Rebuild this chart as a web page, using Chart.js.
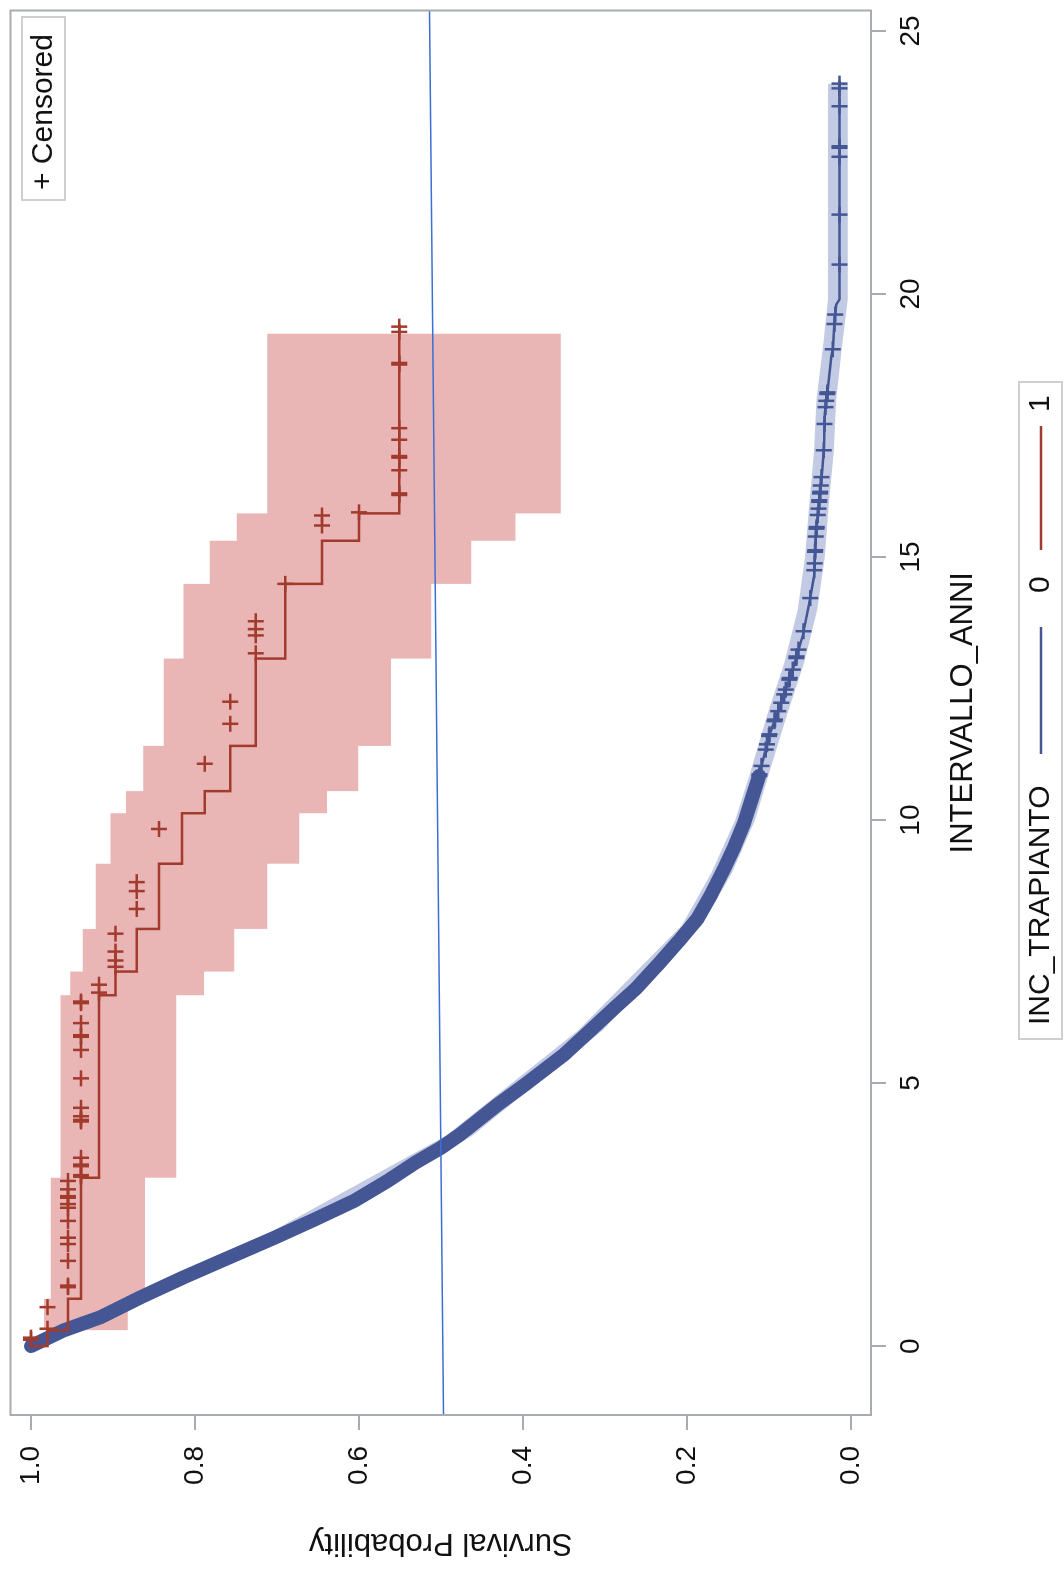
<!DOCTYPE html>
<html>
<head>
<meta charset="utf-8">
<title>Survival - INC_TRAPIANTO</title>
<script src="https://cdn.jsdelivr.net/npm/chart.js@4.4.1/dist/chart.umd.min.js"></script>
<style>
  html, body { margin: 0; padding: 0; background: #fff; overflow: hidden; }
  body { width: 1064px; height: 1574px; position: relative; }
  /* the plot is drawn landscape and turned a quarter turn to the left */
  #wrap { position: absolute; left: 0; top: 0; width: 1574px; height: 1064px;
          transform-origin: 0 0; transform: translate(0, 1574px) rotate(-90deg); }
</style>
</head>
<body>
<div id="wrap"><canvas id="km" width="1574" height="1064"></canvas></div>
<script>
// ── axis ticks ──
const xTicks = [0, 5, 10, 15, 20, 25];
const yTicks = [0, 0.2, 0.4, 0.6, 0.8, 1.0];

// ── INC_TRAPIANTO = 0 ──
const blueT = [0, 0.3, 0.55, 0.93, 1.3, 1.62, 2.06, 2.4, 2.76, 3.14, 3.5, 3.77, 4.03, 4.59, 5.0, 5.54, 6.0, 6.42, 6.8, 7.24, 7.7, 8.13, 8.6, 9.07, 9.5, 9.96, 10.4, 10.84,
               11.6, 12.23, 12.86, 13.5, 14.12, 14.63, 15.39, 16.02, 16.65, 17.09, 17.72, 18.23, 18.8, 18.98, 19.49, 19.8, 19.9, 24.0];
const blueS = [1.0, 0.96, 0.915, 0.866, 0.815, 0.768, 0.703, 0.655, 0.606, 0.565, 0.53, 0.5, 0.476, 0.431, 0.395, 0.35, 0.318, 0.289, 0.262, 0.236, 0.21, 0.187, 0.17, 0.155, 0.142, 0.13, 0.121, 0.112,
               0.1, 0.085, 0.071, 0.059, 0.051, 0.045, 0.043, 0.039, 0.035, 0.033, 0.032, 0.028, 0.024, 0.022, 0.02, 0.018, 0.014, 0.014];
const blueDenseEnd = 10.84;
const blueCens = [10.84, 10.87, 11.03, 11.34, 11.44, 11.6, 11.63, 11.88, 11.91, 12.07, 12.23, 12.39, 12.48, 12.67, 12.7, 12.86, 13.08, 13.11, 13.24, 13.59,
                  14.22, 14.75, 14.88, 15.1, 15.13, 15.39, 15.54, 15.57, 15.8, 15.92, 16.05, 16.08, 16.21, 16.24, 16.36, 16.52, 17.03, 17.53, 17.85, 17.97,
                  18.1, 18.13, 18.95, 19.43, 19.61, 20.56, 21.51, 22.61, 22.78, 22.81, 23.57, 23.91, 24.0];
const blueCiT  = [0, 2, 4, 6, 8, 9, 10, 10.84, 12, 13, 14, 15, 16, 17, 18, 19, 19.9, 24.0];
const blueCiLo = [1.0, 0.697, 0.462, 0.303, 0.182, 0.145, 0.117, 0.101, 0.078, 0.057, 0.041, 0.032, 0.027, 0.021, 0.018, 0.011, 0.004, 0.004];
const blueCiHi = [1.0, 0.727, 0.494, 0.333, 0.206, 0.170, 0.141, 0.124, 0.102, 0.081, 0.065, 0.056, 0.051, 0.045, 0.042, 0.034, 0.028, 0.028];

// ── INC_TRAPIANTO = 1 ──
const redT = [0, 0.3, 0.9, 3.2, 6.67, 7.12, 7.93, 9.17, 10.13, 10.55, 11.41, 13.07, 14.49, 15.31, 15.83, 15.87, 19.38];
const redS = [1.0, 0.98, 0.955, 0.939, 0.917, 0.897, 0.871, 0.844, 0.816, 0.788, 0.757, 0.726, 0.69, 0.645, 0.6, 0.551, 0.551];
const redCens = [0.12, 0.16, 0.33, 0.74, 1.12, 1.15, 1.62, 1.94, 2.06, 2.38, 2.63, 2.7, 2.82, 2.85, 2.98, 3.14, 3.22, 3.25, 3.42, 3.45, 3.58,
                 4.27, 4.3, 4.37, 4.53, 5.09, 5.63, 5.88, 5.91, 6.14, 6.52, 6.55, 6.72, 6.87, 7.21, 7.33, 7.5, 7.84, 8.31, 8.65, 8.82, 9.83,
                 11.07, 11.83, 12.25, 13.17, 13.51, 13.63, 13.78, 14.49, 15.6, 15.79, 15.85, 16.18, 16.21, 16.65, 16.89, 16.92, 17.23, 17.45,
                 18.66, 18.69, 19.28, 19.38];
const redCiT  = [0.3, 0.9, 3.2, 6.67, 7.12, 7.93, 9.17, 10.13, 10.55, 11.41, 13.07, 14.49, 15.31, 15.83, 15.87, 19.25];
const redCiHi = [0.996, 0.984, 0.976, 0.964, 0.952, 0.937, 0.921, 0.903, 0.884, 0.863, 0.838, 0.814, 0.782, 0.749, 0.712, 0.712];
const redCiLo = [0.913, 0.882, 0.861, 0.823, 0.789, 0.752, 0.712, 0.673, 0.639, 0.601, 0.561, 0.512, 0.463, 0.409, 0.354, 0.354];

// hand drawn reference line
const refT = [-1.31, 25.39];
const refS = [0.497, 0.514];

const red     = '#A23A2E';
const blue    = '#445694';
const pink    = '#E9B6B5';
const lilac   = '#C3CAE3';
const frameC  = '#A7ACB1';
const refBlue = '#3C6FD3';
const family  = "'Liberation Sans', Arial, sans-serif";
const none    = 'rgba(0,0,0,0)';

const pts = (t, s) => t.map((v, i) => ({ x: v, y: s[i] }));
const stepAt = (t, s, x) => { let y = s[0]; t.forEach((v, i) => { if (v <= x) y = s[i]; }); return y; };
const lerpAt = (t, s, x) => {
    for (let i = 1; i < t.length; i++) {
        if (x <= t[i]) { const f = (x - t[i - 1]) / (t[i] - t[i - 1]); return s[i - 1] + f * (s[i] - s[i - 1]); }
    }
    return s[s.length - 1];
};

const bluePts = pts(blueT, blueS);
const band = (data, color, stepped, order, fill) => ({
    data, stepped, order, fill,
    backgroundColor: color, borderColor: none, borderWidth: 0, pointRadius: 0
});

// ── frame, tick boxes and legends ──
const decor = {
    id: 'decor',
    afterDatasetsDraw(chart) {
        const { ctx, chartArea: a } = chart;
        ctx.save();
        ctx.strokeStyle = frameC;
        ctx.lineWidth = 2;
        ctx.strokeRect(a.left, a.top, a.right - a.left, a.bottom - a.top);
        ctx.restore();
    },
    afterDraw(chart) {
        const ctx = chart.ctx;
        ctx.save();
        ctx.font = '30px ' + family;
        ctx.textBaseline = 'middle';
        ctx.textAlign = 'left';

        // + Censored inset
        ctx.fillStyle = '#fff';
        ctx.fillRect(1374, 22, 183, 43);
        ctx.strokeStyle = '#CFCFCF';
        ctx.lineWidth = 2;
        ctx.strokeRect(1374, 22, 183, 43);
        ctx.fillStyle = '#111';
        ctx.fillText('+ Censored', 1384, 44);

        // group legend
        const y = 1041;
        ctx.strokeRect(535, 1019, 657, 43);
        ctx.fillText('INC_TRAPIANTO', 549, y);
        ctx.lineWidth = 2.5;
        ctx.strokeStyle = blue;
        ctx.beginPath(); ctx.moveTo(820, y); ctx.lineTo(947, y); ctx.stroke();
        ctx.fillText('0', 981, y);
        ctx.strokeStyle = red;
        ctx.beginPath(); ctx.moveTo(1024, y); ctx.lineTo(1148, y); ctx.stroke();
        ctx.fillText('1', 1162, y);
        ctx.restore();
    }
};

new Chart(document.getElementById('km'), {
    type: 'line',
    data: {
        datasets: [
            { data: pts(refT, refS), borderColor: refBlue, borderWidth: 1.5, pointRadius: 0, order: 0 },
            { data: redCens.map(t => ({ x: t, y: stepAt(redT, redS, t) })), showLine: false,
              pointStyle: 'cross', pointRadius: 8, borderColor: red, borderWidth: 2.5, order: 1 },
            { data: pts(redT, redS), stepped: 'after', borderColor: red, borderWidth: 2.5, pointRadius: 0, order: 2 },
            { data: blueCens.map(t => ({ x: t, y: lerpAt(blueT, blueS, t) })), showLine: false,
              pointStyle: 'cross', pointRadius: 8, borderColor: blue, borderWidth: 2.5, order: 3 },
            { data: bluePts.filter(p => p.x >= blueDenseEnd), borderColor: blue, borderWidth: 2.5, pointRadius: 0, order: 4 },
            { data: bluePts.filter(p => p.x <= blueDenseEnd), borderColor: blue, borderWidth: 14,
              borderJoinStyle: 'round', borderCapStyle: 'round', pointRadius: 0, order: 5 },
            band(pts(blueCiT, blueCiHi), lilac, false, 6, '+1'),
            band(pts(blueCiT, blueCiLo), lilac, false, 7, false),
            band(pts(redCiT, redCiHi), pink, 'after', 8, '+1'),
            band(pts(redCiT, redCiLo), pink, 'after', 9, false)
        ]
    },
    options: {
        responsive: false,
        animation: false,
        layout: { padding: { top: 10, right: 5, left: 0, bottom: 0 } },
        plugins: { legend: { display: false }, tooltip: { enabled: false } },
        scales: {
            x: {
                type: 'linear', min: -1.31, max: 25.39,
                afterBuildTicks: s => { s.ticks = xTicks.map(v => ({ value: v })); },
                afterFit: s => { s.height = 193; s.paddingLeft = 0; s.paddingRight = 0; },
                grid: { drawOnChartArea: false, tickLength: 15, color: frameC, lineWidth: 2 },
                border: { display: false },
                ticks: { font: { family, size: 28 }, color: '#111', padding: 8, maxRotation: 0, autoSkip: false },
                title: { display: true, text: 'INTERVALLO_ANNI', color: '#111',
                         font: { family, size: 31 }, padding: { top: 0, bottom: 82 } }
            },
            y: {
                type: 'linear', min: -0.0244, max: 1.025,
                afterBuildTicks: s => { s.ticks = yTicks.map(v => ({ value: v })); },
                afterFit: s => { s.width = 159; s.paddingTop = 0; s.paddingBottom = 0; },
                grid: { drawOnChartArea: false, tickLength: 15, color: frameC, lineWidth: 2 },
                border: { display: false },
                ticks: { font: { family, size: 28 }, color: '#111', padding: 16,
                         callback: v => Number(v).toFixed(1) },
                title: { display: true, text: 'Survival Probability', color: '#111',
                         font: { family, size: 31 }, padding: { top: 13, bottom: 0 } }
            }
        }
    },
    plugins: [decor]
});
</script>
</body>
</html>
